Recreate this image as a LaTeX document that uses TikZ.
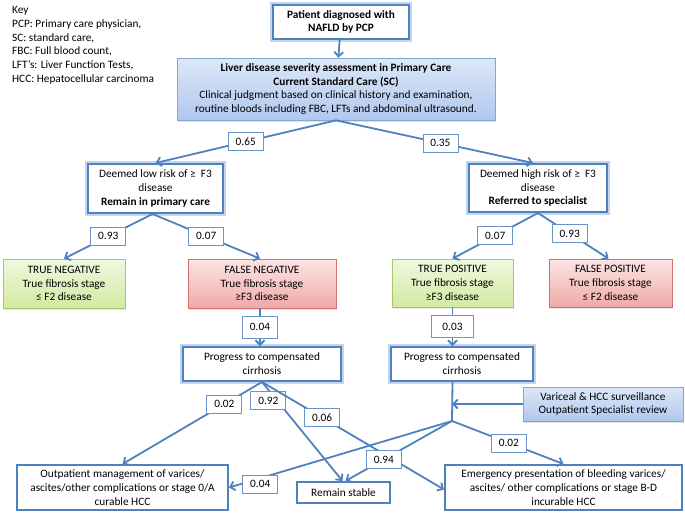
\documentclass[tikz,border=0pt]{standalone}
\usepackage{fontspec}
\setmainfont{Carlito}
\usetikzlibrary{arrows.meta,shadows}
\definecolor{LBlue}{HTML}{4F81BD}
\definecolor{LGlow}{HTML}{C3D5EE}
\definecolor{LSky}{HTML}{DDE8F8}
\definecolor{LSkyDark}{HTML}{B0C7EE}
\definecolor{TGreen}{HTML}{F0F8DF}
\definecolor{TGreenDark}{HTML}{D2E9A2}
\definecolor{TGreenLine}{HTML}{A9C66E}
\definecolor{FRed}{HTML}{FCE4E4}
\definecolor{FRedDark}{HTML}{F0A9A8}
\definecolor{FRedLine}{HTML}{D3716F}

\begin{document}
\begin{tikzpicture}[x=1pt,y=-1pt,
    every node/.style={align=center, inner sep=1pt, font=\fontsize{11.3}{13.8}\selectfont},
    glowbox/.style={draw=LBlue, line width=2pt, fill=white, preaction={draw=LGlow, line width=5.5pt}},
    plainbox/.style={draw=LBlue, line width=2pt, fill=white},
    skybox/.style={draw=LBlue!70, line width=0.7pt, top color=LSky, bottom color=LSkyDark,
        drop shadow={opacity=0.25, shadow xshift=1pt, shadow yshift=-1.5pt}},
    truebox/.style={draw=TGreenLine, line width=0.7pt, top color=TGreen, bottom color=TGreenDark,
        drop shadow={opacity=0.2, shadow xshift=1pt, shadow yshift=-1.5pt}},
    falsebox/.style={draw=FRedLine, line width=0.7pt, top color=FRed, bottom color=FRedDark,
        drop shadow={opacity=0.2, shadow xshift=1pt, shadow yshift=-1.5pt}},
    prob/.style={draw=LBlue!85, line width=0.8pt, fill=white, minimum width=35pt, minimum height=18pt},
    link/.style={draw=LBlue, line width=1.8pt},
    arrow/.style={link, -{Straight Barb[length=4.5pt,width=9pt]}}]
\useasboundingbox (0,0) rectangle (685,512);

% key
\node[anchor=north west, align=left, inner sep=0pt] (key) at (12,6)
    {Key\\PCP: Primary care physician,\\SC: standard care,\\FBC: Full blood count,\\LFT’s: Liver Function Tests,\\HCC: Hepatocellular carcinoma};

% boxes
\node[glowbox, minimum width=136pt, minimum height=34pt] (diag) at (341,22)
    {\textbf{Patient diagnosed with}\\\textbf{NAFLD by PCP}};
\node[skybox, minimum width=318pt, minimum height=62pt] (assess) at (336,89)
    {\textbf{Liver disease severity assessment in Primary Care}\\\textbf{Current Standard Care (SC)}\\Clinical judgment based on clinical history and examination,\\routine bloods including FBC, LFTs and abdominal ultrasound.};
\node[glowbox, minimum width=135pt, minimum height=49pt] (low) at (155.5,188.5)
    {Deemed low risk of ≥\ \ F3\\disease\\\textbf{Remain in primary care}};
\node[glowbox, minimum width=138pt, minimum height=48pt] (high) at (538,188)
    {Deemed high risk of ≥\ \ F3\\disease\\\textbf{Referred to specialist}};
\node[truebox, minimum width=122pt, minimum height=49pt] (tneg) at (64,283.5)
    {TRUE NEGATIVE\\True fibrosis stage\\≤ F2 disease};
\node[falsebox, minimum width=148pt, minimum height=49pt] (fneg) at (262,283.5)
    {FALSE NEGATIVE\\True fibrosis stage\\≥F3 disease};
\node[truebox, minimum width=121pt, minimum height=48pt] (tpos) at (452.5,283)
    {TRUE POSITIVE\\True fibrosis stage\\≥F3 disease};
\node[falsebox, minimum width=123pt, minimum height=48pt] (fpos) at (610.5,283)
    {FALSE POSITIVE\\True fibrosis stage\\≤ F2 disease};
\node[glowbox, minimum width=158pt, minimum height=34pt] (cirrA) at (262,364)
    {Progress to compensated\\cirrhosis};
\node[glowbox, minimum width=142pt, minimum height=34pt] (cirrB) at (462,364)
    {Progress to compensated\\cirrhosis};
\node[skybox, minimum width=160pt, minimum height=34pt] (survey) at (603,404)
    {Variceal \& HCC surveillance\\Outpatient Specialist review};
\node[plainbox, minimum width=211pt, minimum height=45pt] (outpt) at (122.5,487.5)
    {Outpatient management of varices/\\ascites/other complications or stage 0/A\\curable HCC};
\node[plainbox, minimum width=93pt, minimum height=21pt] (stable) at (343.5,492.5)
    {Remain stable};
\node[plainbox, minimum width=237pt, minimum height=45pt] (emerg) at (563.5,487.5)
    {Emergency presentation of bleeding varices/\\ascites/ other complications or stage B-D\\incurable HCC};
\coordinate (split) at (452,421);

% connectors
\draw[arrow] (diag) -- (assess);
\draw[arrow] (assess.south) -- node[prob, pos=0.5] (pA) {0.65} (low.north);
\draw[arrow] (assess.south) -- node[prob, pos=0.53] (pB) {0.35} ([xshift=-5pt]high.north);
\draw[arrow] ([xshift=-3pt]low.south) -- node[prob, pos=0.5] (pC) {0.93} (tneg.north);
\draw[arrow] ([xshift=-3pt]low.south) -- node[prob, pos=0.5] (pD) {0.07} ([xshift=-2pt]fneg.north);
\draw[arrow] (high.south) -- node[prob, pos=0.5] (pE) {0.07} (tpos.north);
\draw[arrow] (high.south) -- node[prob, pos=0.45] (pF) {0.93} ([xshift=-2pt]fpos.north);
\draw[arrow] ([xshift=-2pt]fneg.south) -- node[prob, minimum height=22pt] (pG) {0.04} ([xshift=-2pt]fneg.south |- cirrA.north);
\draw[arrow] (tpos.south) -- node[prob, minimum width=42pt, minimum height=22pt] (pH) {0.03} (tpos.south |- cirrB.north);
\draw[arrow] (cirrA.south) -- node[prob, pos=0.27] (pI) {0.02} (outpt.north);
\draw[arrow] (cirrA.south) -- node[prob, pos=0.19, xshift=-9pt] (pJ) {0.92} ([xshift=-1pt]stable.north);
\draw[arrow] (cirrA.south) -- node[prob, pos=0.33] (pK) {0.06} ([yshift=-2pt]emerg.west);
\draw[link] (tpos.south |- cirrB.south) -- (split);
\draw[arrow] (survey.west) -- (split |- survey.west);
\draw[arrow] (split) -- node[prob, pos=0.86, yshift=-6pt] (pL) {0.04} (outpt.east);
\draw[arrow] (split) -- node[prob, pos=0.64] (pM) {0.94} ([xshift=2pt]stable.north);
\draw[arrow] (split) -- node[prob, pos=0.51] (pN) {0.02} (emerg.north);
\end{tikzpicture}
\end{document}
